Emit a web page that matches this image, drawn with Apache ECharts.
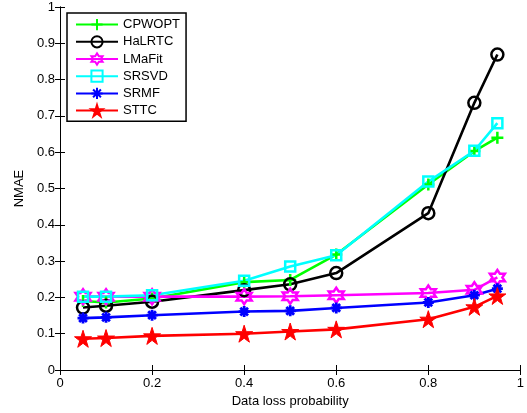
<!DOCTYPE html>
<html>
<head>
<meta charset="utf-8">
<script src="https://cdn.jsdelivr.net/npm/echarts@6/dist/echarts.min.js"></script>
<style>
  html, body { margin: 0; padding: 0; background: #fff; }
  #chart { width: 527px; height: 413px; }
</style>
</head>
<body>
<div id="chart"></div>
<script>
// 数据
var lossProb = [0.05, 0.1, 0.2, 0.4, 0.5, 0.6, 0.8, 0.9, 0.95];
var cpwopt = [0.190, 0.186, 0.197, 0.242, 0.248, 0.318, 0.511, 0.603, 0.640];
var halrtc = [0.172, 0.177, 0.188, 0.220, 0.236, 0.267, 0.432, 0.736, 0.869];
var lmafit = [0.202, 0.202, 0.202, 0.202, 0.203, 0.206, 0.212, 0.221, 0.255];
var srsvd  = [0.202, 0.202, 0.206, 0.246, 0.285, 0.316, 0.519, 0.604, 0.680];
var srmf   = [0.143, 0.145, 0.151, 0.161, 0.163, 0.171, 0.186, 0.206, 0.224];
var sttc   = [0.086, 0.088, 0.094, 0.100, 0.106, 0.112, 0.140, 0.174, 0.204];
var xTicks = [0, 0.2, 0.4, 0.6, 0.8, 1];
var yTicks = [0, 0.1, 0.2, 0.3, 0.4, 0.5, 0.6, 0.7, 0.8, 0.9, 1];

// 标记形状
var plusPath = 'path://M0,-1L0,1M-1,0L1,0';
var astPath = 'path://M0,-1L0,1M-1,0L1,0M-0.7,-0.7L0.7,0.7M-0.7,0.7L0.7,-0.7';
var hexPath = 'path://M0,-1L0.289,-0.5L0.866,-0.5L0.577,0L0.866,0.5L0.289,0.5L0,1L-0.289,0.5L-0.866,0.5L-0.577,0L-0.866,-0.5L-0.289,-0.5Z';
var pentPath = 'path://M0,-1L0.225,-0.309L0.951,-0.309L0.363,0.118L0.588,0.809L0,0.382L-0.588,0.809L-0.363,0.118L-0.951,-0.309L-0.225,-0.309Z';

var font = 'Liberation Sans, Arial, sans-serif';

function pairs(ys) {
  var out = [];
  for (var i = 0; i < lossProb.length; i++) {
    out.push([lossProb[i], ys[i]]);
  }
  return out;
}

function mk(name, ys, color, symbol, size, filled, bw) {
  return {
    name: name,
    type: 'line',
    data: pairs(ys),
    symbol: symbol,
    symbolSize: size,
    showAllSymbol: true,
    lineStyle: { color: color, width: 2.6 },
    itemStyle: {
      color: filled ? color : 'rgba(0,0,0,0)',
      borderColor: color,
      borderWidth: bw
    },
    emphasis: { disabled: true },
    z: 2
  };
}

function fmt(v) {
  return String(Math.round(v * 10) / 10);
}

var myChart = echarts.init(document.getElementById('chart'));
var axisCommon = {
  type: 'value',
  min: 0,
  max: 1,
  splitLine: { show: false },
  axisLine: { show: true, lineStyle: { color: '#000', width: 1 } },
  axisTick: { show: true, inside: true, length: 5, lineStyle: { color: '#000' } }
};

var option = {
  animation: false,
  backgroundColor: '#fff',
  grid: { left: 60, right: 6, top: 7, bottom: 43 },
  legend: {
    orient: 'vertical',
    left: 67,
    top: 13,
    padding: [5, 6, 4, 8],
    itemWidth: 42,
    itemHeight: 14,
    itemGap: 4,
    backgroundColor: '#fff',
    borderColor: '#000',
    borderWidth: 1.5,
    textStyle: { fontFamily: font, fontSize: 13, color: '#000' },
    data: ['CPWOPT', 'HaLRTC', 'LMaFit', 'SRSVD', 'SRMF', 'STTC']
  },
  xAxis: [
    Object.assign({}, axisCommon, {
      position: 'bottom',
      interval: 0.2,
      name: 'Data loss probability',
      nameLocation: 'middle',
      nameGap: 24,
      nameTextStyle: { fontFamily: font, fontSize: 13, color: '#000' },
      axisLabel: { fontFamily: font, fontSize: 13, color: '#000', margin: 7, formatter: fmt }
    }),
    Object.assign({}, axisCommon, {
      position: 'top',
      interval: 0.2,
      axisLabel: { show: false }
    })
  ],
  yAxis: [
    Object.assign({}, axisCommon, {
      position: 'left',
      interval: 0.1,
      name: 'NMAE',
      nameLocation: 'middle',
      nameGap: 34,
      nameTextStyle: { fontFamily: font, fontSize: 13, color: '#000' },
      axisLabel: { fontFamily: font, fontSize: 13, color: '#000', margin: 5, formatter: fmt }
    }),
    Object.assign({}, axisCommon, {
      position: 'right',
      interval: 0.1,
      axisLabel: { show: false }
    })
  ],
  series: [
    mk('CPWOPT', cpwopt, '#00ff00', plusPath, 12, false, 2.5),
    mk('HaLRTC', halrtc, '#000000', 'circle', 12, false, 2.5),
    mk('LMaFit', lmafit, '#ff00ff', hexPath, 15, false, 2.5),
    mk('SRSVD', srsvd, '#00ffff', 'rect', 10, false, 2.5),
    mk('SRMF', srmf, '#0000ff', astPath, 11, false, 2.8),
    mk('STTC', sttc, '#ff0000', pentPath, 17, true, 1)
  ]
};

myChart.setOption(option);
</script>
</body>
</html>
